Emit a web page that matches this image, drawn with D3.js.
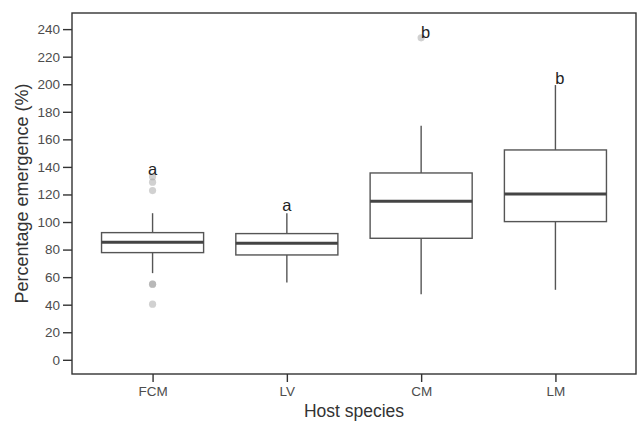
<!DOCTYPE html>
<html>
<head>
<meta charset="utf-8">
<script src="https://cdn.jsdelivr.net/npm/d3@7"></script>
<style>
  body { margin: 0; background: #fff; }
  text { font-family: "Liberation Sans", Arial, sans-serif; }
</style>
</head>
<body>
<div class="canvas"></div>
<script>
// data
const categories = ['FCM', 'LV', 'CM', 'LM'];
const whiskerLow = [62.9, 56.1, 47.6, 50.8];
const q1 = [77.8, 76.1, 88.2, 100.3];
const median = [85.3, 84.6, 115.0, 120.4];
const q3 = [92.3, 91.6, 135.6, 152.3];
const whiskerHigh = [106.4, 106.4, 169.9, 199.4];
const outliers = [
  [40.4, 54.9, 54.9, 122.8, 128.9, 132.9],
  [],
  [233.7],
  []
];
const letters = ['a', 'a', 'b', 'b'];
const letterValue = [134.2, 108.1, 233.5, 200.1];
const yTicks = d3.range(0, 241, 20);

// graph setup
const dims = { width: 638, height: 424 };
const margins = { top: 13, right: 2, bottom: 50, left: 72 };

const svg = d3.select('.canvas')
  .append('svg')
  .attr('width', dims.width)
  .attr('height', dims.height);

const innerW = dims.width - margins.left - margins.right;
const innerH = dims.height - margins.top - margins.bottom;

const graph = svg.append('g')
  .attr('transform', `translate(${margins.left},${margins.top})`);

// scales
const x = d3.scalePoint()
  .domain(categories)
  .range([0, innerW])
  .padding(0.6);

const y = d3.scaleLinear()
  .domain([-10.3, 251.7])
  .range([innerH, 0]);

const boxW = x.step() * 0.76;

const boxes = categories.map((c, i) => ({
  cat: c,
  lo: whiskerLow[i],
  q1: q1[i],
  med: median[i],
  q3: q3[i],
  hi: whiskerHigh[i],
  out: outliers[i],
  letter: letters[i],
  lv: letterValue[i]
}));

// axes
const yAxis = d3.axisLeft(y).tickValues(yTicks).tickSize(9).tickPadding(3);
const xAxis = d3.axisBottom(x).tickSize(8).tickPadding(4);

const gy = graph.append('g').call(yAxis);
const gx = graph.append('g').attr('transform', `translate(0,${innerH})`).call(xAxis);

[gy, gx].forEach(g => {
  g.select('.domain').remove();
  g.selectAll('line').attr('stroke', '#333').attr('stroke-width', 1.4);
  g.selectAll('text').attr('fill', '#4d4d4d').style('font-size', '13.5px');
});

// panel border
graph.append('rect')
  .attr('width', innerW)
  .attr('height', innerH)
  .attr('fill', 'none')
  .attr('stroke', '#333')
  .attr('stroke-width', 1.4);

// box groups
const nodes = graph.selectAll('.box')
  .data(boxes)
  .enter()
  .append('g')
    .attr('class', 'box')
    .attr('transform', d => `translate(${x(d.cat)},0)`);

// whiskers
nodes.append('line')
  .attr('y1', d => y(d.q3)).attr('y2', d => y(d.hi))
  .attr('stroke', '#555').attr('stroke-width', 1.4);
nodes.append('line')
  .attr('y1', d => y(d.q1)).attr('y2', d => y(d.lo))
  .attr('stroke', '#555').attr('stroke-width', 1.4);

// boxes
nodes.append('rect')
  .attr('x', -boxW / 2)
  .attr('width', boxW)
  .attr('y', d => y(d.q3))
  .attr('height', d => y(d.q1) - y(d.q3))
  .attr('fill', '#fff')
  .attr('stroke', '#555')
  .attr('stroke-width', 1.4);

// medians
nodes.append('line')
  .attr('x1', -boxW / 2).attr('x2', boxW / 2)
  .attr('y1', d => y(d.med)).attr('y2', d => y(d.med))
  .attr('stroke', '#444').attr('stroke-width', 3);

// outliers
nodes.selectAll('.out')
  .data(d => d.out)
  .enter()
  .append('circle')
    .attr('class', 'out')
    .attr('r', 3.6)
    .attr('cy', d => y(d))
    .attr('fill', '#999')
    .attr('fill-opacity', 0.45);

// significance letters
nodes.append('text')
  .attr('y', d => y(d.lv))
  .attr('dx', d => d.letter === 'b' ? 4.5 : 0)
  .attr('text-anchor', 'middle')
  .attr('fill', '#222')
  .style('font-size', '16.5px')
  .text(d => d.letter);

// axis titles
svg.append('text')
  .attr('x', margins.left + innerW / 2)
  .attr('y', 417)
  .attr('text-anchor', 'middle')
  .attr('fill', '#333')
  .style('font-size', '17.5px')
  .text('Host species');

svg.append('text')
  .attr('transform', `translate(28,${margins.top + innerH / 2}) rotate(-90)`)
  .attr('text-anchor', 'middle')
  .attr('fill', '#333')
  .style('font-size', '18px')
  .text('Percentage emergence (%)');
</script>
</body>
</html>
